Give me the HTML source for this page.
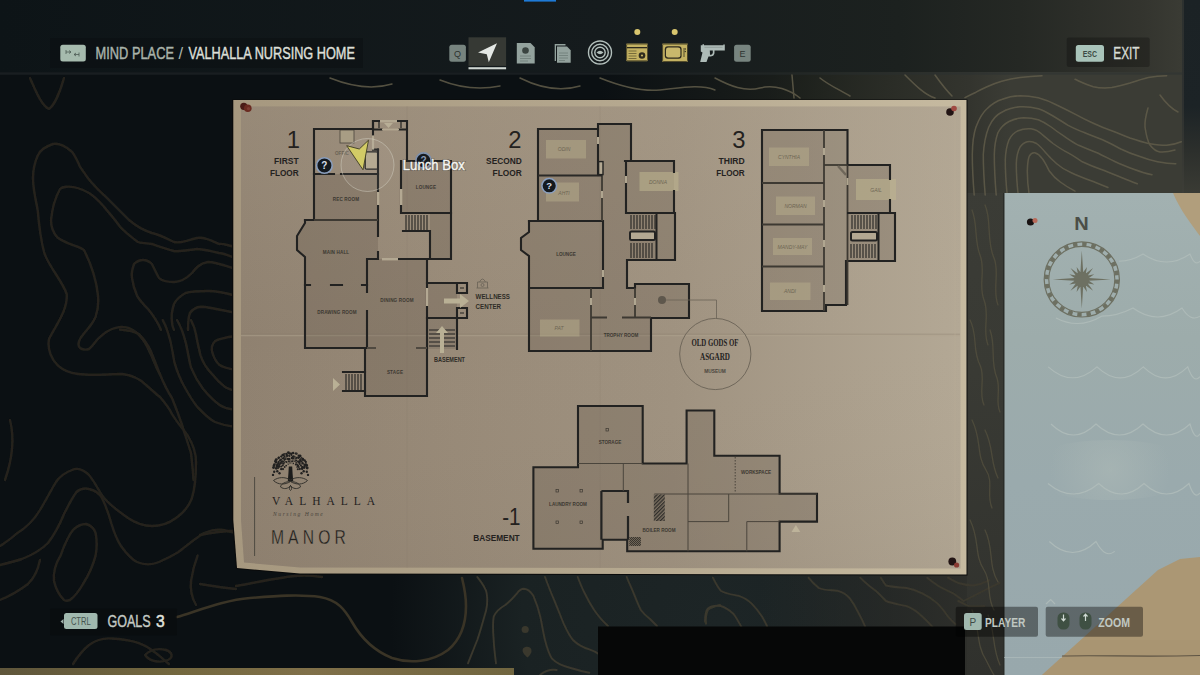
<!DOCTYPE html>
<html><head><meta charset="utf-8">
<style>
html,body{margin:0;padding:0;width:1200px;height:675px;overflow:hidden;background:#0b1013;}
svg{position:absolute;left:0;top:0;display:block;}
</style></head>
<body>
<svg width="1200" height="675" viewBox="0 0 1200 675" font-family="Liberation Sans, sans-serif">
<defs>
  <radialGradient id="rg1" cx="1090" cy="170" r="330" gradientUnits="userSpaceOnUse">
    <stop offset="0" stop-color="#3d3d36"/>
    <stop offset="0.45" stop-color="#35362f"/>
    <stop offset="1" stop-color="#35362f" stop-opacity="0"/>
  </radialGradient>
  <radialGradient id="rg2" cx="720" cy="620" r="330" gradientUnits="userSpaceOnUse">
    <stop offset="0" stop-color="#1d2526"/>
    <stop offset="0.6" stop-color="#1a2223"/>
    <stop offset="1" stop-color="#1a2223" stop-opacity="0"/>
  </radialGradient>
  <radialGradient id="rg3" cx="990" cy="420" r="200" gradientUnits="userSpaceOnUse">
    <stop offset="0" stop-color="#33342e"/>
    <stop offset="1" stop-color="#33342e" stop-opacity="0"/>
  </radialGradient>
  <linearGradient id="topGrad" x1="0" y1="0" x2="1200" y2="0" gradientUnits="userSpaceOnUse">
    <stop offset="0" stop-color="#0d1417"/>
    <stop offset="0.5" stop-color="#151b1d"/>
    <stop offset="0.75" stop-color="#1c211f"/>
    <stop offset="0.85" stop-color="#252824"/>
    <stop offset="0.95" stop-color="#33342e"/>
    <stop offset="0.985" stop-color="#3a3b34"/>
  </linearGradient>
  <linearGradient id="goldBar" x1="0" y1="0" x2="1" y2="0">
    <stop offset="0" stop-color="#5f563b"/>
    <stop offset="0.35" stop-color="#74683f"/>
    <stop offset="0.6" stop-color="#807049"/>
    <stop offset="1" stop-color="#716640"/>
  </linearGradient>
  <pattern id="hatch" width="2.6" height="2.6" patternUnits="userSpaceOnUse" patternTransform="rotate(45)">
    <rect width="2.6" height="2.6" fill="#7a6f60"/><rect width="1.2" height="2.6" fill="#2e2c29"/>
  </pattern>
  <pattern id="chk" width="2" height="2" patternUnits="userSpaceOnUse">
    <rect width="2" height="2" fill="#6f6556"/><rect width="1" height="1" fill="#3a3630"/><rect x="1" y="1" width="1" height="1" fill="#3a3630"/>
  </pattern>
</defs>
<rect x="0" y="0" width="1200" height="675" fill="#0b1013"/>
<rect x="0" y="0" width="1200" height="675" fill="url(#rg2)"/>
<rect x="0" y="0" width="1200" height="675" fill="url(#rg3)"/>
<rect x="0" y="0" width="1200" height="675" fill="url(#rg1)"/>
<rect x="0" y="0" width="1200" height="72" fill="url(#topGrad)"/>
<linearGradient id="stripG" x1="0" y1="72" x2="0" y2="675" gradientUnits="userSpaceOnUse"><stop offset="0" stop-color="#3c3d37"/><stop offset="0.5" stop-color="#393a34"/><stop offset="1" stop-color="#30312d"/></linearGradient>
<rect x="966" y="100" width="38" height="575" fill="url(#stripG)"/>
<linearGradient id="trG" x1="600" y1="0" x2="1010" y2="0" gradientUnits="userSpaceOnUse"><stop offset="0" stop-color="#23251f" stop-opacity="0"/><stop offset="0.5" stop-color="#23261f" stop-opacity="0.7"/><stop offset="0.9" stop-color="#33342e"/><stop offset="1" stop-color="#3b3c35"/></linearGradient>
<rect x="600" y="72" width="582" height="121" fill="url(#trG)"/>
<linearGradient id="botR" x1="760" y1="0" x2="967" y2="0" gradientUnits="userSpaceOnUse"><stop offset="0" stop-color="#2a2b28" stop-opacity="0"/><stop offset="0.6" stop-color="#2a2b28" stop-opacity="0.7"/><stop offset="1" stop-color="#2e2f2b"/></linearGradient>
<rect x="760" y="575" width="207" height="100" fill="url(#botR)"/>

<line x1="0" y1="73.5" x2="1182" y2="73.5" stroke="#2a3032" stroke-width="2.5" opacity="0.45"/>
<linearGradient id="dsG" x1="0" y1="0" x2="0" y2="193" gradientUnits="userSpaceOnUse"><stop offset="0" stop-color="#1b2225"/><stop offset="0.55" stop-color="#1c2326"/><stop offset="0.78" stop-color="#2c2f2c"/><stop offset="1" stop-color="#3a3b34"/></linearGradient>
<rect x="1182" y="0" width="18" height="195" fill="url(#dsG)"/>
<line x1="1183" y1="0" x2="1183" y2="195" stroke="#40413a" stroke-width="1"/>
<!-- contours left (dark) -->
<filter id="soft" x="-5%" y="-5%" width="110%" height="110%"><feGaussianBlur stdDeviation="0.6"/></filter>
<g fill="none" stroke="#25241d" stroke-width="2.4" stroke-linecap="round" stroke-linejoin="round" filter="url(#soft)">
  <path d="M30,78 C36,92 42,106 49,109 C54,106 60,92 64,78"/>
  <path d="M236,247 C226,245 222,243 219,244 C210,240 204,237 197,238 C188,240 180,244 174,242 C166,238 158,234 152,233 C142,230 136,226 129,220 C122,213 116,207 111,202 C104,195 98,190 93,184 C87,178 84,172 80,166.7 C76,158 74,153 71,151 C64,145 58,143 53,144 C44,147 40,150 37.8,155.6 C34,164 33,170 33,178 C33,190 36,200 37.8,211 C39,226 41,240 44,252 C48,266 62,280 66.7,294 C68,310 56,325 49,339 C47,350 52,360 58,365.6 C64,371 70,373 78,374 C92,376 108,374 122,374 C132,375 140,379 146,385 C152,390 156,394 160,397 C166,404 170,410 172,414 C178,424 184,430 188,436 C194,446 196,454 196,462 C196,476 195,488 192,498 C188,508 182,514 176,518 C168,524 160,526 152,526 C142,526 134,522 128,518 C118,511 110,505 104,498 C98,490 94,480 88,474 C82,469 76,468 72,470 C64,473 60,476 56,482 C50,492 46,500 40,510 C34,520 26,528 16,534 C10,540 4,543 0,546"/>
  <path d="M236,258 C228,256 224,253 219,253 C210,251 204,249 197,249 C188,250 180,252 174,251 C166,249 158,246 152,244 C146,243 140,243 137.8,242 C130,236 124,231 120,226.7 C114,218 108,212 104,206.7 C99,201 94,196 89,193 C82,189 74,186 66.7,186.7 C63,187 61,188 60,189 C55,198 52,210 51,220 C51,228 54,234 57.8,237.8 C66,244 78,246 84,250 C90,262 96,278 97.8,294 C99,304 98,310 95.6,316.7 C92,326 84,332 80,339 C78,343 78,346 80,348 C83,350 86,350 89,349 C93,346 95,342 97.8,339 C104,333 110,329 115.6,327.8 C122,326 128,327 133,330 C139,334 143,339 146.7,345.6 C150,352 153,359 155.6,365.6 C157,369 158.5,372 160,374.5 C164,384 168,392 172,398 C176,408 179,416 181.7,424 C185,434 188,444 191,453 C192,462 193,470 193.5,480"/>
  <path d="M236,269 C226,266 216,262 208,262 C200,263 196,268 192,273 C186,279 180,282 174,282 C167,282 162,281 159,278 C156,273 154,268 152,264 C149,261 146,260 143,260 C139,260 136,262 134,264 C132,270 131,274 132,278 C133,286 135,291 137,295.6 C140,301 144,305 148,309 C152,314 155,318 157,322 C159,325 160,328 161,330"/>
  <path d="M236,296 C226,293 216,291 208,291 C200,291 192,291 185.6,293 C180,296 176,300 174,304 C172,310 171,316 172,322 C172,326 173,328 174,330"/>
  <path d="M236,313 C226,311 210,307 201,306.7 C196,307 192,310 190,313 C188,318 188,324 188,330"/>
  <path d="M162.7,320 C166,326 168,332 169.8,339 C172,347 173,355 174.5,362.7 C177,371 180,379 184,386 C189,395 193,402 198,407.7 C204,414 209,419 214.9,422 C220,424 226,426 236,427"/>
  <path d="M177,320 C181,327 184,335 186,343.7 C188,352 189,360 191,367.4 C194,375 198,382 203,388.8 C209,396 214,401 219.6,405 C224,408 228,409 236,410"/>
  <path d="M191,320 C193,324 195,329 195.9,334 C197,341 199,349 200.6,355.6 C203,363 207,369 212.5,374.5 C216,379 220,383 224.3,386.4 C228,389 232,390 236,391"/>
  <path d="M236,336 C228,337 220,338 214.9,341.3 C212,344 211,348 212.5,353 C214,358 216,362 219.6,365 C224,368 230,369 236,370"/>
  <path d="M120,329.5 C126,330 133,331 139,334 C144,339 148,345 150.8,351 C154,359 157,367 160,374.5"/>
  <path d="M0,565 C8,563 16,561 22,559 C32,555 42,549 48,543 C54,535 60,524 64,514 C68,506 72,498 76.5,492 C80,489 85,488 89,489 C94,490 99,493 102,498 C106,506 109,515 111.5,524 C114,532 117,540 121,546 C126,553 131,559 137,562 C144,565 152,565 159,562 C166,559 172,556 178.5,552 C186,546 196,538 204,533 C212,530 218,529 223,530 C228,531 232,532 236,533"/>
  <path d="M64,600 C60,596 56,590 54,581 C53,572 56,563 60.5,555.6 C64,546 68,536 73,530 C77,526 82,524 86,524 C90,525 94,528 95.6,533 C97,540 97,548 95.6,555.6 C93,566 88,576 83,584 C79,591 74,597 70,600 C67,601 65,601 64,600Z"/>
  <path d="M73,664 C78,656 83,650 89,645 C96,640 104,638 111.5,638.5 C120,639 128,640 134,641.7 C142,644 148,647 153,651 C159,655 164,660 169,664"/>
  <path d="M145,655 C150,650 158,648 166,650 C172,652 174,657 168,660 C160,663 150,662 145,655Z"/>
  <path d="M0,600 C10,596 20,590 28,584 C34,578 38,570 40,560"/>
  <path d="M197.6,555.6 C194,565 192,574 191,581 C190,590 192,598 196,605"/>
  <path d="M200,535 C210,533 222,531 234,530.7"/>
  <path d="M200,584 C212,586 224,588 236,589"/>
  <path d="M236,586 C255,583 275,578 295,576 C305,575 315,576 322,577"/>
  <path d="M10,420 C15,440 12,460 5,480"/>
</g>
<g fill="none" stroke="#3a3426" stroke-width="2.6" stroke-linecap="round">
  <path d="M177,617 C200,610 225,600 250,598 C275,596 300,594 320,597 C338,600 345,610 352,622 C360,636 372,650 392,658 C410,664 432,662 448,650 C460,640 466,624 466,606 C466,594 464,586 462,578"/>
</g>
<!-- bottom middle contours -->
<g fill="none" stroke="#3a382d" stroke-width="1.9" stroke-linecap="round" stroke-linejoin="round" filter="url(#soft)">
  <path d="M477.3,577 C482,583 486,588 486.7,593.3 C488,601 487,609 484.3,616.7 C482,625 480,632 477.3,640 C474,648 471,656 468,663.3"/>
  <path d="M496,663.3 C495,655 494,648 493.7,640 C493,632 492.5,624 493.7,616.7 C496,611 500,608 505.3,605 C510,601 514,597 517,593.3 C519,590.5 521.5,588.7 524,588.7 C528,589 531,592 533.3,595.7 C536,602 538.5,609 540.3,616.7 C542,624 543,632 545,640 C547,648 549,654 552,658.7 C557,664 564,666.5 570.7,668 C577,670 583,671.5 589.3,672.7"/>
  <path d="M545,577 C548,585 551,593 554.3,600.3 C557.5,608 560.5,616 563.7,623.7 C566.5,630 569.5,636 573,640 C578,645 583,647.5 589.3,649.3 C593,650.5 596,652 598.7,654"/>
  <path d="M577.7,577 C580,583 582,588 584.7,593.3 C587.5,599 590.5,604.5 594,609.7 C597,614 600,618 603.3,621.3 C605,623 606.5,624.5 608,626"/>
  <path d="M626.7,577 C629,583 631.5,588 633.7,593.3 C636,599 638,604.5 640.7,609.7 C643.5,613.5 646.5,616.5 650,619 C652.5,621.5 655,624 657,626"/>
  <path d="M720,605 C715,606 711,607.5 708,609.7 C706,614 705.5,619 706,623.7"/>
  <path d="M540,675 C545,671 550,669 556.7,670"/>
  <path d="M712.9,577.7 C715,582 717.5,587 720.7,590.7 C726,594 732,594.5 738.7,595.8 C744,597.5 748,600 751.7,603.6 C755.5,607.5 759,612 762,616.5 C764,620 766,623.5 767.2,626.8"/>
  <path d="M705,621.7 C705,616 705.5,611.5 707.7,608.7 C711,606 716,605.5 720.7,606 C725.5,607.5 730,610.5 733.6,614 C736.5,618 739,622.5 741.3,626.8"/>
  <path d="M808.5,577.7 C811.5,581.5 815,585 818.8,588 C824,590.5 830.5,590 837,590.7 C842,592 846.5,594.5 849.8,598.4 C853,602.5 855.5,607 857.6,611.3 C860.5,616.5 863,621.5 865.3,626.8"/>
  <path d="M860.2,577.7 C865,582.5 870,587 875.7,590.7 C879.5,594 882.5,597.5 886,601 C892,603.5 899.5,604.5 906.7,606.2 C912.5,608.5 917.5,612 922.2,616.5 C926,620 929.5,623.5 932.5,626.8"/>
  <path d="M880.8,577.7 C882.5,580.5 884,583 886,585.5 C892.5,587 899.5,587.5 906.7,588 C912,589 917.5,591 922.2,593.3 C928,596 933,599.5 937.7,603.6 C941.5,607.5 945,612 948,616.5 C950.5,619.5 953,622 955.7,624.2"/>
  <path d="M927.3,577.7 C930.5,580.5 934,583 937.7,585.5 C942.5,588.5 948,591 953.2,593.3 C957,596 960,598.5 963.5,601 C967,599.5 970.5,597.5 973.8,595.8 C979,593 984,590.5 989.3,588 C993,586 996.5,584.5 999.7,582.9"/>
  <path d="M948,577.7 C951.5,579.5 955,581.5 958.3,583 C963.5,584.5 968.5,585.5 973.8,585.5 C979,584.5 984.5,582.5 989.3,580.3"/>
  <path d="M958.3,601 C962,602.5 965.5,604.5 968.7,606.2 C974,606.5 979,606.5 984.2,606.2"/>
</g>

<g fill="#3a382d">
  <circle cx="525.2" cy="629.5" r="3.6"/>
  <path d="M523,648.5 C525,646.5 528,646 530.5,648 C532.5,650.5 531.5,654 527.5,657.5 C524,654.5 521.5,651.5 523,648.5Z"/>
</g>
<!-- right side contours (light) -->
<g fill="none" stroke="#615c4a" stroke-width="1.5" stroke-linecap="round" stroke-linejoin="round" opacity="0.85" filter="url(#soft)">
  <path d="M974.2,195 C973,180 972.3,165 972.3,154.5 C972.5,142 973.5,134 976,127 C979,119 982,113 987,108.7 C992,104 996,101 1001.7,99.5 C1008,97 1014,96 1020,95.8 C1026,95.8 1032,96.5 1038.3,97.7 C1045,99.5 1051,102 1056.7,105 C1063,108 1069,111 1075,114.2 C1081,117.5 1087,120.5 1093.3,123.3 C1099,126 1105,128.5 1111.7,130.7 C1118,133 1124,135.8 1130,138 C1136,140 1142,142 1148.3,143.5 C1155,144.5 1161,145.5 1166.7,145.3 C1172,144.8 1177,143.5 1181.3,141.7"/>
  <path d="M985.2,195 C984,180 983.3,165 983.3,154.5 C984,143 986,134 988.8,127 C992,120 996,115 1001.7,112.3 C1007,109 1013,107.5 1020,106.8 C1026,106.5 1032,107 1038.3,108.7 C1044,110.5 1048,113 1053,116 C1058,119 1063,122 1067.7,125.2 C1073,128 1078,130.5 1084.2,132.5 C1090,135 1096,137 1102.5,139.8 C1109,142.5 1115,146 1120.8,149 C1127,152 1133,154.5 1139.2,156.3 C1145,158.5 1151,160.5 1157.5,161.8 C1164,163 1170,163.8 1175.8,163.7"/>
  <path d="M996.2,195 C995,180 994.3,165 994.3,154.5 C994.5,145 996,138 998,132.5 C1001,127 1005,123.5 1009,121.5 C1014,119 1019,118 1023.7,117.8 C1029,117.8 1034,118.5 1038.3,119.7 C1043,121.5 1047,124 1051.2,127 C1055,130 1059,133 1064,136.2 C1069,139.5 1073,142.5 1078.7,145.3 C1085,148 1091,150.5 1097,152.7 C1103,155.5 1109,158.8 1115.3,161.8 C1121,164.5 1127,166.8 1133.7,169.2 C1140,171.5 1146,173.5 1152,174.7"/>
  <path d="M1007.2,195 C1006,183 1005.3,171 1005.3,160 C1005.5,151 1007,145 1009,139.8 C1011.5,135 1014.5,132.5 1018.2,130.7 C1022,129 1027,128.5 1031,128.8 C1035,129.5 1039,131.5 1042,134.3 C1046,137.5 1049,140.5 1053,143.5 C1058,147 1062,149.8 1067.7,152.7 C1073,155.5 1077,158.5 1082.3,161.8 C1088,164.5 1094,167 1100.7,169.2 C1107,171.5 1113,174 1119,176.5 C1125,179 1131,181.5 1137.3,183.8"/>
  <path d="M1018.2,195 C1017,184 1016.3,173 1016.3,163.7 C1016.5,156 1018,151 1020,147.2 C1022,144 1024.5,142.3 1027.3,141.7 C1030.5,141 1033.5,141.8 1036.5,143.5 C1040,146 1043,149.5 1045.7,152.7 C1049,156.5 1053,160.5 1056.7,163.7 C1061,167.5 1066,170.5 1071.3,172.8 C1077,175.5 1083,177.8 1089.7,180.2 C1096,182.5 1102,185 1108,187.5"/>
  <path d="M1029.2,195 C1028,187 1027.3,178 1027.3,171 C1027.5,164 1028,159.5 1029.2,156.3 C1030.5,153.8 1032.5,152.5 1034.7,152.7 C1037.5,153.5 1040,155.5 1042,158.2 C1045,162 1047,166.5 1049.3,171 C1052.5,175.5 1056,179 1060.3,182 C1065,185.5 1070,188.5 1075,191.2"/>
  <path d="M965,97.7 C969,95.5 972,94 976,92.2 C980,90 983,88.5 987,86.7 C992,84.5 996,82.8 1001.7,81.2 C1008,79.5 1014,78.3 1020,77.5 C1028,76.5 1035,76 1042,75.7"/>
  <path d="M1075,79.3 C1081,82 1087,85 1093.3,86.7 C1099,88 1105,88.2 1111.7,87.6 C1118,86.5 1124,84.8 1130,83 C1136,81 1142,79 1148.3,77.5 C1155,76.3 1161,75.8 1166.7,75.7"/>
  <path d="M1148,108 C1146,115 1144.5,121 1145,127 C1146,134 1147,140 1150,145 C1153,149 1156,151.5 1160,152 C1165,152.5 1170,151.5 1175,150"/>
  <path d="M1160,95 C1165,102 1170,108 1178,112"/>
  <path d="M905,75 C915,85 925,95 935,98"/>
  <path d="M935,75 C940,82 946,90 952,96"/>
  <path d="M715,78 C730,86 745,92 760,88 C775,84 790,90 800,98"/>
  <path d="M792,75 L794,98"/>
  <path d="M820,78 C830,86 840,90 850,96"/>
  <path d="M600,78 C620,86 640,92 660,90 C680,88 700,84 715,90"/>
  <path d="M520,78 C540,88 560,92 580,86"/>
  <path d="M440,80 C460,88 480,90 500,86"/>
  <path d="M330,78 C350,86 372,90 392,84"/>
</g>
<g fill="none" stroke="#57523f" stroke-width="1.3" stroke-linecap="round" opacity="0.7" filter="url(#soft)">
  <path d="M972,210 C978,225 974,240 980,255 C986,270 978,285 984,300 C990,315 982,330 988,345"/>
  <path d="M985,205 C992,220 986,240 994,258 C1000,272 992,290 998,305"/>
  <path d="M970,320 C978,335 972,350 980,365 C986,378 978,392 984,405"/>
  <path d="M990,330 C996,345 990,362 997,378 C1001,390 995,402 1000,412"/>
  <path d="M972,420 C982,440 976,455 986,470 C994,482 986,495 992,508"/>
  <path d="M985,430 C994,448 990,462 998,478"/>
  <path d="M970,520 C980,540 974,555 984,570 C992,582 986,596 994,610"/>
  <path d="M985,530 C994,548 988,566 998,582"/>
  <path d="M972,610 C980,628 976,645 986,660 C990,668 992,672 994,675"/>
  <path d="M988,615 C995,630 992,648 1000,665"/>
</g>

<defs>
<linearGradient id="paperG" x1="241" y1="0" x2="960" y2="0" gradientUnits="userSpaceOnUse">
  <stop offset="0" stop-color="#8f8170"/>
  <stop offset="0.3" stop-color="#988a78"/>
  <stop offset="0.6" stop-color="#9f9280"/>
  <stop offset="1" stop-color="#b3a895"/>
</linearGradient>
<linearGradient id="borderG" x1="234" y1="0" x2="967" y2="0" gradientUnits="userSpaceOnUse">
  <stop offset="0" stop-color="#a6987f"/>
  <stop offset="0.5" stop-color="#b4a78e"/>
  <stop offset="1" stop-color="#c6baa0"/>
</linearGradient>
<linearGradient id="paperV" x1="0" y1="106" x2="0" y2="568" gradientUnits="userSpaceOnUse">
  <stop offset="0" stop-color="#b0a38f" stop-opacity="0.25"/>
  <stop offset="0.5" stop-color="#b0a38f" stop-opacity="0"/>
  <stop offset="1" stop-color="#7a6e60" stop-opacity="0.1"/>
</linearGradient>
</defs>
<!-- paper -->
<polygon points="232,99.5 967.5,99.5 967.5,575.5 300,574.5 236,569 232,520" fill="#0a0b0b"/>
<polygon points="233.3,100 966.5,100 966.5,574.5 300,573.5 237,568 233.3,520" fill="url(#borderG)"/>
<polygon points="241,106.5 960.5,106.5 960.5,568.5 300,567.5 244,562.5 241,520" fill="url(#paperG)"/>
<polygon points="241,106.5 960.5,106.5 960.5,568.5 300,567.5 244,562.5 241,520" fill="url(#paperV)"/>
<line x1="241" y1="334.2" x2="960" y2="334.2" stroke="#7e7262" stroke-width="0.8" opacity="0.45"/>
<line x1="241" y1="335.5" x2="960" y2="335.5" stroke="#b0a48f" stroke-width="1.3" opacity="0.5"/>
<line x1="407" y1="106" x2="407" y2="568" stroke="#86796a" stroke-width="0.8" opacity="0.3"/>
<line x1="600" y1="106" x2="600" y2="568" stroke="#86796a" stroke-width="0.8" opacity="0.25"/>
<line x1="955" y1="106" x2="955" y2="568" stroke="#b8ac96" stroke-width="1" opacity="0.5"/>

<!-- ====== FIRST FLOOR ====== -->
<g fill="#5a5045" fill-opacity="0.25" stroke="none">
  <rect x="314" y="174" width="64" height="46"/>
  <rect x="401" y="161" width="50" height="52"/>
  <rect x="430" y="213" width="21" height="46"/>
  <path d="M305,220 L378,220 L378,259 L367,259 L367,348 L305,348 L305,257 L297,250 L297,236 L305,223Z"/>
  <rect x="367" y="259" width="60" height="89"/>
  <rect x="365" y="348" width="62" height="48"/>
  <rect x="427" y="283" width="30" height="35"/>
  <rect x="427" y="318" width="29" height="31" fill="#5a5045" fill-opacity="0.2"/>
</g>
<g fill="#5a5045" fill-opacity="0.0">
  <rect x="314" y="129" width="59" height="45"/>
  <rect x="373" y="121" width="34" height="40"/>
  <rect x="378" y="161" width="23" height="98"/>
  <rect x="403" y="231" width="27" height="28"/>
</g>
<rect x="340" y="130" width="14" height="13" fill="#a89d84" stroke="#4a453d" stroke-width="0.8"/>
<rect x="365.2" y="151.8" width="12.6" height="17.4" rx="1.5" fill="#b1a68d" stroke="#232322" stroke-width="1.3"/>
<g stroke="#222221" stroke-width="2.1" fill="none" stroke-linecap="square">
  <path d="M334,174 L314,174 L314,129 L373,129"/>
  <path d="M341,174 L378,174"/>
  <path d="M373,129 L373,121 L380,121 M397,121 L407,121 L407,161 L451,161 L451,259 L399,259"/>
  <path d="M373,129.5 L382,129.5 M399,129.5 L407,129.5" stroke-width="1.8"/>
  <path d="M379,122 L379,127.5 M401,122 L401,127.5" stroke-width="1.2"/>
  <path d="M373,121 L373,135.4 M373,149.6 L378,149.6"/>
  <path d="M378,149.6 L378,236 M378,252 L378,259 L367,259 L367,292 M367,311 L367,348"/>
  <path d="M401,161 L401,213 L451,213"/>
  <path d="M403,231 L430,231 L430,259"/>
  <path d="M314,174 L314,220 M305,220 L314,220"/>
  <path d="M305,220 L305,223 L297,236 L297,250 L305,257 L305,348 L365,348 L365,396 L427,396 L427,259 L398,259"/>
  <path d="M305,285 L310,285 M331,285 L342,285 M362,285 L367,285"/>
  <path d="M427,283 L467,283 M457,283 L457,293 L467,293 L467,283 M457,308 L457,318 L467,318 L467,308 L457,308 M427,318 L457,318 L457,349"/>
  <path d="M343,372 L365,372 M343,391 L365,391"/>
</g>
<path d="M367,348 L376,348 M416,348 L427,348" stroke="#4f4940" stroke-width="2.2"/>
<path d="M314,220 L378,220" stroke="#3d3932" stroke-width="1.9"/>
<g stroke="#232322" stroke-width="1.1">
  <path d="M406,215 v15 M409,215 v15 M412,215 v15 M415,215 v15 M418,215 v15 M421,215 v15 M424,215 v15 M427,215 v15"/>
  <path d="M346,374 v16 M349,374 v16 M352,374 v16 M355,374 v16 M358,374 v16 M361,374 v16"/>
  <path d="M429,330 h26 M429,334 h26 M429,338 h26 M429,342 h26 M429,346 h26"/>
</g>
<!-- door marks -->
<path d="M460,288 h4 M460,313 h4" stroke="#222221" stroke-width="1"/>
<g fill="#b3a892">
  <rect x="426" y="288" width="2.2" height="18"/>
  <rect x="382" y="258" width="16" height="2.4"/>
  <rect x="377" y="192" width="2.4" height="13"/><rect x="400" y="189" width="2.4" height="16"/>
  <rect x="371.9" y="135.4" width="2.2" height="14.2"/>
  <rect x="380" y="120" width="17" height="2.4"/><rect x="382" y="128.6" width="17" height="1.8"/>
</g>
<path d="M384,123 L393,123 L388.5,128Z" fill="#b8ae96"/>
<path d="M444,298.5 L460,298.5 L460,294 L469,301 L460,308 L460,303.5 L444,303.5Z" fill="#b9b095"/>
<path d="M440,353 L440,333 L436,333 L442,326 L448,333 L444,333 L444,353Z" fill="#b9b095"/>
<path d="M333,378 L340,384.5 L333,391Z" fill="#b9b095"/>
<g font-size="4.6" fill="#3c3831" font-weight="bold" text-anchor="middle" letter-spacing="0.15">
  <text x="346" y="201">REC ROOM</text>
  <text x="426" y="188.5">LOUNGE</text>
  <text x="336" y="254">MAIN HALL</text>
  <text x="337" y="314">DRAWING ROOM</text>
  <text x="397" y="302">DINING ROOM</text>
  <text x="395" y="373.5">STAGE</text>
</g>
<text x="335" y="155" font-size="4.6" fill="#6a6255" font-weight="bold">OFFIC</text>
<g font-size="7.4" fill="#2f2c27" font-weight="bold">
  <text x="475.6" y="298.6" textLength="34.4" lengthAdjust="spacingAndGlyphs">WELLNESS</text>
  <text x="475.6" y="308.6" textLength="25.4" lengthAdjust="spacingAndGlyphs">CENTER</text>
  <text x="434" y="362.2" textLength="31" lengthAdjust="spacingAndGlyphs">BASEMENT</text>
</g>
<g fill="none" stroke="#6e675a" stroke-width="0.9">
  <path d="M477.5,288 L477.5,282 L487.5,282 L487.5,288 M476.5,288 L488.5,288 M479.5,282 Q482.5,276 485.5,282"/>
  <circle cx="482.5" cy="285" r="1.5"/>
</g>

<!-- ====== SECOND FLOOR ====== -->
<g fill="#5a5045" fill-opacity="0.25">
  <rect x="538" y="129" width="60" height="46"/>
  <rect x="538" y="175" width="64.5" height="46"/>
  <rect x="598" y="124" width="33" height="37"/>
  <path d="M602.5,161 L626,161 L626,213 L627,213 L627,288 L602.5,288Z"/>
  <rect x="626" y="161" width="48" height="52"/>
  <rect x="627" y="213" width="48" height="47"/>
  <path d="M529,221 L602.5,221 L602.5,288 L529,288 L529,256 L521,250 L521,238 L529,232Z"/>
  <path d="M529,288 L635,288 L635,318 L651,318 L651,351 L529,351Z"/>
  <rect x="635" y="284" width="54" height="34"/>
</g>
<g fill="#b8ae8c" fill-opacity="0.5">
  <rect x="546" y="140" width="40" height="18.5"/>
  <rect x="546" y="182.5" width="33" height="19"/>
  <rect x="639.5" y="172" width="39" height="19" fill="#c0b690" fill-opacity="0.55"/>
  <rect x="540" y="319.5" width="39.5" height="17"/>
</g>
<g stroke="#222221" stroke-width="2.1" fill="none" stroke-linecap="square">
  <path d="M538,221 L538,129 L598,129 L598,124 L631,124 L631,161 L674,161 L674,172 M674,191 L674,213"/>
  <path d="M529,221 L603,221 L603,288"/>
  <path d="M529,221 L529,232 L521,238 L521,250 L529,256 L529,351 L651,351 L651,318 L689,318 L689,284 L635,284 L635,288 L627,288 L627,260 L675,260 L675,213"/>
  <path d="M626,161 L626,213 L674,213 M625,161 L632,161"/>
  <path d="M598,129 L598,175"/>
</g>
<g stroke="#3d3932" stroke-width="1.8" fill="none">
  <path d="M602,175 L602,221"/>
  <path d="M538,175.5 L602,175.5" stroke="#2a2927" stroke-width="2"/>
  <path d="M529,288 L603,288" stroke="#232322" stroke-width="2.1"/>
  <path d="M591,288 L591,351"/>
  <path d="M591,317.5 L607,317.5 M622,317.5 L651,317.5"/>
  <path d="M635,288 L635,318"/>
</g>
<rect x="598.6" y="161.6" width="4.4" height="13" fill="#b3a892" stroke="#232322" stroke-width="1.4"/>
<g fill="#b0a690">
  <rect x="597" y="137" width="2" height="7"/><rect x="601" y="191" width="2" height="7"/>
  <rect x="625" y="176" width="2" height="7"/><rect x="602" y="270" width="2" height="7"/>
  <rect x="590" y="298" width="2" height="7"/><rect x="634" y="298" width="2" height="7"/>
</g>
<rect x="630" y="231.5" width="25" height="8.5" rx="1.5" fill="#b3a892" stroke="#232322" stroke-width="2"/>
<g stroke="#232322" stroke-width="1.1">
  <path d="M631,215 v14 M634,215 v14 M637,215 v14 M640,215 v14 M643,215 v14 M646,215 v14 M649,215 v14 M652,215 v14 M655,215 v14"/>
  <path d="M631,243 v15 M634,243 v15 M637,243 v15 M640,243 v15 M643,243 v15 M646,243 v15 M649,243 v15 M652,243 v15"/>
</g>
<path d="M656.5,213 L656.5,260" stroke="#232322" stroke-width="2"/>
<circle cx="662" cy="300" r="4" fill="#5e574c"/>
<path d="M666,300 L716.5,300 L716.5,318" fill="none" stroke="#6a6256" stroke-width="0.8"/>
<circle cx="715.3" cy="354" r="35.6" fill="none" stroke="#6a6256" stroke-width="0.9"/>
<g font-size="10.5" fill="#24221f" font-weight="bold" text-anchor="middle" font-family="Liberation Serif, serif">
  <text x="715" y="346" textLength="47" lengthAdjust="spacingAndGlyphs">OLD GODS OF</text>
  <text x="715" y="359.5" textLength="30" lengthAdjust="spacingAndGlyphs">ASGARD</text>
</g>
<text x="715" y="373" font-size="4.8" fill="#4a453d" font-weight="bold" text-anchor="middle">MUSEUM</text>
<g font-size="4.6" fill="#3c3831" font-weight="bold" text-anchor="middle">
  <text x="566" y="256">LOUNGE</text>
  <text x="621" y="337">TROPHY ROOM</text>
</g>
<g font-size="5" fill="#6d6553" font-style="italic" text-anchor="middle">
  <text x="564" y="151">ODIN</text>
  <text x="564" y="195">AHTI</text>
  <text x="658" y="183.5">DONNA</text>
  <text x="559" y="330">PAT</text>
</g>

<!-- ====== THIRD FLOOR ====== -->
<g fill="#5a5045" fill-opacity="0.25">
  <rect x="762" y="130" width="62" height="181"/>
  <rect x="824" y="130" width="23.5" height="175" fill="#5a5045" fill-opacity="0.2"/>
  <rect x="847.5" y="165" width="42.5" height="48"/>
  <rect x="847.5" y="213" width="47.5" height="48"/>
</g>
<g fill="#b8ae8c" fill-opacity="0.5">
  <rect x="769" y="147.5" width="40" height="18.5"/>
  <rect x="776" y="196.5" width="39" height="18.5"/>
  <rect x="773" y="238" width="39" height="17"/>
  <rect x="770" y="282.5" width="40.5" height="17.5"/>
  <rect x="856" y="179" width="40" height="21" fill="#c0b690" fill-opacity="0.55"/>
</g>
<g stroke="#222221" stroke-width="2.1" fill="none" stroke-linecap="square">
  <path d="M826,305 L846,305 L846,261 L895,261 L895,213 L890,213 L890,200 M890,179 L890,165 L847.5,165 L847.5,130 L762,130 L762,311 L826,311 L826,305"/>
</g>
<g stroke="#3d3932" stroke-width="1.8" fill="none">
  <path d="M824,130 L824,311"/>
  <path d="M762,183 L824,183 M762,224.5 L824,224.5 M762,266.5 L824,266.5"/>
  <path d="M824,165 L847.5,165"/>
  <path d="M847.5,165 L847.5,305"/>
  <path d="M847,213 L895,213" stroke="#232322"/>
</g>
<path d="M838,166 L846,175" stroke="#6f675a" stroke-width="2.4"/>
<g fill="#b0a690">
  <rect x="823" y="148" width="2" height="7"/><rect x="823" y="200" width="2" height="7"/>
  <rect x="823" y="240" width="2" height="7"/><rect x="823" y="285" width="2" height="7"/>
  <rect x="846.5" y="178" width="2" height="7"/>
</g>
<rect x="851" y="232" width="26" height="8.5" rx="1.5" fill="#b3a892" stroke="#232322" stroke-width="2"/>
<g stroke="#232322" stroke-width="1.1">
  <path d="M852,215 v14 M855,215 v14 M858,215 v14 M861,215 v14 M864,215 v14 M867,215 v14 M870,215 v14 M873,215 v14 M876,215 v14"/>
  <path d="M851,244 v14 M854,244 v14 M857,244 v14 M860,244 v14 M863,244 v14 M866,244 v14 M869,244 v14 M872,244 v14 M875,244 v14"/>
</g>
<path d="M878.5,213 L878.5,260" stroke="#232322" stroke-width="2"/>
<g font-size="5" fill="#6d6553" font-style="italic" text-anchor="middle">
  <text x="789" y="158.5">CYNTHIA</text>
  <text x="795.5" y="207.5">NORMAN</text>
  <text x="792.5" y="248.5">MANDY-MAY</text>
  <text x="790" y="293">ANDI</text>
  <text x="876" y="191.5">GAIL</text>
</g>

<!-- ====== BASEMENT ====== -->
<path d="M533.4,467.3 L578,467.3 L578,406 L642.7,406 L642.7,463.5 L686.6,463.5 L686.6,410.5 L714.3,410.5 L714.3,455.7 L779.6,455.7 L779.6,493.7 L817,493.7 L817,521.6 L779.6,521.6 L779.6,551.3 L627.2,551.3 L627.2,539.7 L602.7,539.7 L602.7,548.7 L533.4,548.7Z" fill="#5a5045" fill-opacity="0.25" stroke="#222221" stroke-width="2.1"/>
<g stroke="#232322" stroke-width="2.2" fill="none">
  <path d="M601.4,491 L628,491 L628,503 M628,516 L628,539.7 M601.4,491 L601.4,539.7"/>
</g>
<g stroke="#4a453c" stroke-width="1" fill="none">
  <path d="M578,463.5 L642.7,463.5"/>
  <path d="M623.3,463.5 L623.3,491"/>
  <path d="M654.3,494 L817,494"/>
  <path d="M688,463.5 L688,551.3"/>
  <path d="M728.7,494 L728.7,521.6 L688,521.6"/>
  <path d="M746.8,521.6 L746.8,551.3 M746.8,521.6 L779.6,521.6"/>
  <path d="M735.2,457 L735.2,493" stroke-dasharray="1.5,1.5"/>
</g>
<rect x="653.8" y="494.5" width="11" height="26.5" fill="url(#hatch)"/>
<rect x="629.3" y="537" width="11.6" height="9" fill="url(#chk)"/>
<g fill="none" stroke="#3c3831" stroke-width="0.7">
  <rect x="556" y="489.5" width="2.5" height="2.5"/><rect x="580" y="489.5" width="2.5" height="2.5"/>
  <rect x="556" y="521" width="2.5" height="2.5"/><rect x="580" y="521" width="2.5" height="2.5"/>
  <rect x="606" y="428.5" width="2.5" height="2.5"/>
</g>
<path d="M791.5,532 L795.9,525 L800.3,532Z" fill="#bdb39a"/>
<g font-size="4.6" fill="#3c3831" font-weight="bold" text-anchor="middle">
  <text x="610" y="443.5">STORAGE</text>
  <text x="568" y="506">LAUNDRY ROOM</text>
  <text x="659" y="532">BOILER ROOM</text>
  <text x="756" y="474">WORKSPACE</text>
</g>

<!-- floor titles -->
<g fill="#23211e" text-anchor="end" font-size="23.8">
  <text x="300.1" y="147.8">1</text>
  <text x="521.4" y="147.8">2</text>
  <text x="745.6" y="147.8">3</text>
  <text x="520.5" y="524.7" textLength="18.3" lengthAdjust="spacingAndGlyphs">-1</text>
</g>
<g fill="#24221f" font-size="9.6" font-weight="bold" lengthAdjust="spacingAndGlyphs">
  <text x="274.1" y="164.1" textLength="24.5" lengthAdjust="spacingAndGlyphs">FIRST</text>
  <text x="269.9" y="175.9" textLength="28.7" lengthAdjust="spacingAndGlyphs">FLOOR</text>
  <text x="486.1" y="164.1" textLength="35.6" lengthAdjust="spacingAndGlyphs">SECOND</text>
  <text x="492.6" y="176" textLength="29.1" lengthAdjust="spacingAndGlyphs">FLOOR</text>
  <text x="718.5" y="164.1" textLength="26.2" lengthAdjust="spacingAndGlyphs">THIRD</text>
  <text x="716.2" y="176" textLength="28.5" lengthAdjust="spacingAndGlyphs">FLOOR</text>
  <text x="473.2" y="541.3" font-size="8.8" textLength="46.5" lengthAdjust="spacingAndGlyphs">BASEMENT</text>
</g>

<!-- logo -->
<line x1="254.6" y1="477" x2="254.6" y2="556" stroke="#4f4a42" stroke-width="1"/>
<g fill="#222120">
<circle cx="273.5" cy="467.6" r="1.45"/>
<circle cx="273.9" cy="465.8" r="1.32"/>
<circle cx="274.4" cy="464.5" r="1.34"/>
<circle cx="276.0" cy="462.4" r="1.20"/>
<circle cx="275.5" cy="461.2" r="1.36"/>
<circle cx="276.3" cy="459.6" r="1.47"/>
<circle cx="278.5" cy="458.0" r="1.14"/>
<circle cx="279.2" cy="457.4" r="1.10"/>
<circle cx="281.1" cy="456.5" r="1.09"/>
<circle cx="282.8" cy="455.2" r="1.42"/>
<circle cx="284.4" cy="454.2" r="1.28"/>
<circle cx="286.3" cy="453.9" r="1.19"/>
<circle cx="288.4" cy="452.7" r="1.42"/>
<circle cx="289.9" cy="453.6" r="1.17"/>
<circle cx="291.1" cy="453.9" r="1.39"/>
<circle cx="293.1" cy="453.0" r="1.24"/>
<circle cx="295.6" cy="453.6" r="1.08"/>
<circle cx="296.4" cy="453.7" r="1.27"/>
<circle cx="298.7" cy="455.6" r="1.11"/>
<circle cx="300.1" cy="455.8" r="1.19"/>
<circle cx="300.6" cy="456.9" r="1.47"/>
<circle cx="302.4" cy="458.8" r="1.18"/>
<circle cx="302.9" cy="459.5" r="1.40"/>
<circle cx="304.6" cy="460.5" r="1.26"/>
<circle cx="305.8" cy="462.0" r="1.13"/>
<circle cx="306.0" cy="464.5" r="1.25"/>
<circle cx="306.6" cy="465.5" r="1.47"/>
<circle cx="307.2" cy="468.0" r="1.44"/>
<circle cx="276.2" cy="468.3" r="1.37"/>
<circle cx="277.1" cy="466.3" r="1.43"/>
<circle cx="277.3" cy="465.0" r="1.34"/>
<circle cx="278.1" cy="463.3" r="1.07"/>
<circle cx="278.6" cy="461.9" r="1.13"/>
<circle cx="280.3" cy="460.3" r="1.22"/>
<circle cx="281.9" cy="458.7" r="1.26"/>
<circle cx="283.5" cy="458.2" r="1.10"/>
<circle cx="284.7" cy="456.6" r="1.14"/>
<circle cx="285.7" cy="456.4" r="1.41"/>
<circle cx="287.4" cy="455.6" r="1.38"/>
<circle cx="289.7" cy="456.0" r="1.08"/>
<circle cx="290.9" cy="455.3" r="1.13"/>
<circle cx="293.3" cy="456.5" r="1.36"/>
<circle cx="294.9" cy="456.9" r="1.11"/>
<circle cx="296.5" cy="457.9" r="1.13"/>
<circle cx="298.4" cy="457.6" r="1.28"/>
<circle cx="299.7" cy="458.4" r="1.12"/>
<circle cx="300.2" cy="460.1" r="1.21"/>
<circle cx="301.4" cy="461.4" r="1.18"/>
<circle cx="302.6" cy="463.3" r="1.18"/>
<circle cx="304.6" cy="464.7" r="1.30"/>
<circle cx="304.6" cy="466.4" r="1.09"/>
<circle cx="304.1" cy="467.6" r="1.39"/>
<circle cx="278.1" cy="468.1" r="1.01"/>
<circle cx="279.2" cy="466.6" r="1.27"/>
<circle cx="279.1" cy="464.9" r="1.03"/>
<circle cx="280.5" cy="463.3" r="1.34"/>
<circle cx="281.8" cy="461.8" r="1.30"/>
<circle cx="283.6" cy="461.0" r="1.26"/>
<circle cx="284.7" cy="459.4" r="1.16"/>
<circle cx="286.3" cy="458.7" r="1.21"/>
<circle cx="288.0" cy="458.9" r="1.22"/>
<circle cx="289.8" cy="459.1" r="1.24"/>
<circle cx="291.9" cy="458.0" r="1.27"/>
<circle cx="293.1" cy="458.4" r="1.22"/>
<circle cx="294.9" cy="458.8" r="1.03"/>
<circle cx="296.3" cy="460.7" r="1.23"/>
<circle cx="297.6" cy="461.3" r="1.26"/>
<circle cx="299.3" cy="462.1" r="1.35"/>
<circle cx="299.6" cy="463.8" r="1.11"/>
<circle cx="300.9" cy="465.4" r="1.06"/>
<circle cx="302.2" cy="467.0" r="1.17"/>
<circle cx="302.1" cy="468.8" r="1.25"/>
<circle cx="281.2" cy="469.1" r="1.20"/>
<circle cx="281.3" cy="466.5" r="1.05"/>
<circle cx="282.8" cy="465.4" r="0.97"/>
<circle cx="283.4" cy="463.5" r="1.21"/>
<circle cx="284.9" cy="462.0" r="1.02"/>
<circle cx="286.6" cy="461.9" r="1.01"/>
<circle cx="288.4" cy="461.4" r="1.14"/>
<circle cx="290.5" cy="461.3" r="1.21"/>
<circle cx="292.7" cy="461.3" r="0.95"/>
<circle cx="294.0" cy="461.1" r="0.93"/>
<circle cx="296.0" cy="462.7" r="1.03"/>
<circle cx="297.0" cy="464.5" r="0.97"/>
<circle cx="297.9" cy="465.7" r="1.21"/>
<circle cx="298.8" cy="467.0" r="0.94"/>
<circle cx="299.8" cy="469.0" r="1.14"/>
<circle cx="283.0" cy="469.1" r="1.09"/>
<circle cx="284.7" cy="467.0" r="0.94"/>
<circle cx="286.2" cy="465.6" r="0.94"/>
<circle cx="288.3" cy="464.1" r="0.88"/>
<circle cx="290.4" cy="463.0" r="0.96"/>
<circle cx="293.2" cy="463.4" r="0.92"/>
<circle cx="295.6" cy="464.7" r="0.83"/>
<circle cx="297.1" cy="467.0" r="0.84"/>
<circle cx="297.8" cy="469.2" r="1.07"/>
<circle cx="274.2" cy="471.7" r="1.2"/>
<circle cx="273.0" cy="474.9" r="1.2"/>
<circle cx="306.8" cy="471.7" r="1.2"/>
<circle cx="308.0" cy="474.9" r="1.2"/>
<circle cx="277.3" cy="471.2" r="1.2"/>
<circle cx="303.7" cy="471.2" r="1.2"/>
<circle cx="279.5" cy="473.2" r="1.2"/>
<circle cx="301.5" cy="473.2" r="1.2"/>
</g>
<g stroke="#8f8372" stroke-width="0.7" fill="none" stroke-linecap="round" opacity="0.8">
<path d="M289.5,467 L283,460 L279,456 M289.5,466 L286.5,459 L285,454 M290.5,465 L290.5,455 M291.5,466 L294.5,459 L296,454 M291.5,467 L298,460 L302,456"/>
</g>
<path d="M287.8,481 C288.3,476 288.6,471 288.8,466.5 L292.2,466.5 C292.4,471 292.7,476 293.2,481Z" fill="#1c1c1b"/>
<g fill="none" stroke="#2e2c28" stroke-width="0.9">
<path d="M290.5,480 C285,476.5 278,477 273.5,480.5 C278,485 285,485 290.5,481.5 C296,485 303,485 307.5,480.5 C303,477 296,476.5 290.5,480Z"/>
<path d="M290.5,481.5 C286,481.5 281,483.5 280.5,487 C284,489.5 288,489 290.5,485.5 C293,489 297,489.5 300.5,487 C300,483.5 295,481.5 290.5,481.5Z"/>
<path d="M290.5,485.5 C289,487.5 289,489.5 290.5,490.5 C292,489.5 292,487.5 290.5,485.5Z"/>
</g>
<text x="272" y="505" font-family="Liberation Serif, serif" font-size="11.5" fill="#23211e" letter-spacing="6">VALHALLA</text>
<text x="273" y="516" font-family="Liberation Serif, serif" font-size="5.6" font-style="italic" fill="#4a453d" letter-spacing="1.55">Nursing Home</text>
<text transform="translate(270.9,543.5) scale(0.81,1)" x="0" y="0" font-size="19.3" fill="#23211e" stroke="#978a78" stroke-width="0.3" letter-spacing="5.2">MANOR</text>

<!-- pins -->
<g>
  <circle cx="243.8" cy="106.3" r="3.6" fill="#4a1c16"/><circle cx="247.8" cy="108.3" r="3.8" fill="#6a2a20"/><circle cx="248.5" cy="108.6" r="1.6" fill="#8a4a3e" opacity="0.6"/>
  <circle cx="950" cy="112" r="3.8" fill="#221414"/><circle cx="954" cy="108.5" r="2.8" fill="#a04a42"/>
  <circle cx="952.3" cy="561.5" r="3.9" fill="#221414"/><circle cx="956.6" cy="565" r="2.6" fill="#8a3a32"/>
</g>

<!-- blue map -->
<rect x="1003" y="193" width="197" height="482" fill="#2a2c28"/>
<defs><linearGradient id="blueG" x1="0" y1="193" x2="0" y2="675" gradientUnits="userSpaceOnUse">
<stop offset="0" stop-color="#a2b1b1"/><stop offset="0.3" stop-color="#9dacab"/><stop offset="0.6" stop-color="#9aaaad"/><stop offset="1" stop-color="#98a8ac"/></linearGradient>
<radialGradient id="blueHaze" cx="1110" cy="470" r="60" gradientUnits="userSpaceOnUse"><stop offset="0" stop-color="#b0bcb8" stop-opacity="0.5"/><stop offset="1" stop-color="#b0bcb8" stop-opacity="0"/></radialGradient></defs>
<rect x="1004.5" y="193" width="195.5" height="482" fill="url(#blueG)"/>
<ellipse cx="1110" cy="470" rx="90" ry="30" fill="url(#blueHaze)"/>
<path d="M1173,193 L1200,193 L1200,236 C1192,225 1180,210 1173,193Z" fill="#b19e7c"/>
<path d="M1200,557 L1180,559 L1168,565 L1158,570 L1042,675 L1200,675Z" fill="#ab9774"/>
<path d="M1081,640 L1200,640 L1200,675 L1042,675Z" fill="#a89472" opacity="0.6"/>
<path d="M1004,657.5 L1062,657.5" stroke="#b4c0bf" stroke-width="1" opacity="0.6"/><path d="M1062,656 C1100,655 1140,657 1200,655.5" stroke="#5e5444" stroke-width="1.2" fill="none"/>
<g fill="none" stroke="#b3bfbc" stroke-width="1.1" opacity="0.75">
  <path d="M1119.0,261.2 Q1131.0,261.2 1143.0,254.0 Q1166.5,270.0 1190.0,254.0 Q1195.0,266.8 1200.0,261.2"/>
  <path d="M1102.0,316.1 Q1117.5,316.1 1133.0,308.0 Q1157.5,326.0 1182.0,308.0 Q1191.0,322.4 1200.0,316.1"/>
  <path d="M1048.2,366.8 Q1072.6,388.8 1097.0,366.8 Q1120.2,388.8 1143.3,366.8 Q1165.5,388.8 1187.7,366.8 Q1193.8,384.4 1200.0,376.7"/>
  <path d="M1051.0,424.0 Q1073.5,446.0 1096.0,424.0 Q1119.5,446.0 1143.0,424.0 Q1166.5,446.0 1190.0,424.0 Q1195.0,441.6 1200.0,433.9"/>
  <path d="M1048.0,483.5 Q1073.3,504.5 1098.7,483.5 Q1121.3,504.5 1144.0,483.5 Q1166.5,504.5 1189.0,483.5 Q1194.5,500.3 1200.0,492.9"/>
  <path d="M1049.3,541.5 Q1072.7,563.5 1096.0,541.5 Q1105.3,559.1 1114.7,551.4"/>
  <path d="M1056,318 Q1079,330 1102,316"/>
  <path d="M1046,604 L1050.7,599.5 L1055,604"/>
</g>
<text x="1081.6" y="230.4" font-size="19" font-weight="bold" fill="#4b4e47" text-anchor="middle" textLength="14.5" lengthAdjust="spacingAndGlyphs">N</text>
<circle cx="1030.5" cy="222" r="3.6" fill="#181212"/><circle cx="1035" cy="220.5" r="2.5" fill="#b86a5a"/>
<g fill="none" stroke="#6d7062">
  <circle cx="1081.8" cy="279.4" r="37.6" stroke-width="1.2"/>
  <circle cx="1081.8" cy="279.4" r="33" stroke-width="1.1"/>
  <circle cx="1081.8" cy="279.4" r="35.3" stroke-width="4.3" stroke-dasharray="4.4,4.85"/>
</g>
<path d="M1081.8,250.4 L1083.2,272.3 L1087.0,266.9 L1085.8,273.4 L1093.1,268.1 L1087.8,275.4 L1094.3,274.2 L1088.9,278.0 L1110.8,279.4 L1088.9,280.8 L1094.3,284.6 L1087.8,283.4 L1093.1,290.7 L1085.8,285.4 L1087.0,291.9 L1083.2,286.5 L1081.8,308.4 L1080.4,286.5 L1076.6,291.9 L1077.8,285.4 L1070.5,290.7 L1075.8,283.4 L1069.3,284.6 L1074.7,280.8 L1052.8,279.4 L1074.7,278.0 L1069.3,274.2 L1075.8,275.4 L1070.5,268.1 L1077.8,273.4 L1076.6,266.9 L1080.4,272.3Z" fill="#6d7062"/>
<circle cx="1081.8" cy="279.4" r="7.5" fill="#6d7062"/>

<!-- player marker and icons -->
<circle cx="367.5" cy="165" r="26.5" fill="#ffffff" fill-opacity="0.05" stroke="#d8d4c8" stroke-opacity="0.45" stroke-width="1"/>
<path d="M368.5,140.2 L359.3,149 L346.7,145.7 L363,169.8 Z" fill="#d2cb66" stroke="#3e3c22" stroke-width="0.9" stroke-linejoin="round"/>
<g>
  <circle cx="324.4" cy="165.5" r="7.8" fill="#14191f" stroke="#8a9fbf" stroke-width="1.6"/>
  <text x="324.4" y="169.2" font-size="10" font-weight="bold" fill="#d8dfe8" text-anchor="middle">?</text>
  <circle cx="423.5" cy="160.5" r="7.6" fill="#14191f" stroke="#7d90ad" stroke-width="1.6"/>
  <text x="423.5" y="164.2" font-size="10" font-weight="bold" fill="#8a9cb8" text-anchor="middle">?</text>
  <circle cx="549.2" cy="185.8" r="7.3" fill="#14191f" stroke="#8a9fbf" stroke-width="1.5"/>
  <text x="549.2" y="189.3" font-size="9.5" font-weight="bold" fill="#d8dfe8" text-anchor="middle">?</text>
</g>
<text x="402.8" y="170" font-size="14" fill="none" stroke="#1a1a18" stroke-opacity="0.35" stroke-width="1.8" textLength="62" lengthAdjust="spacingAndGlyphs">Lunch Box</text>
<text x="402.8" y="170" font-size="14" fill="#f6f6f2" stroke="#f6f6f2" stroke-width="0.4" textLength="62" lengthAdjust="spacingAndGlyphs">Lunch Box</text>

<!-- black rect & gold bar -->
<rect x="598" y="626.5" width="367" height="48.5" fill="#060707"/>
<rect x="0" y="668" width="514" height="7" fill="url(#goldBar)"/>

<!-- ===== HUD ===== -->
<rect x="524" y="0" width="32" height="1.6" fill="#1e7ad6"/>
<rect x="50" y="38" width="313" height="30" fill="#090c0e" opacity="0.35"/>
<rect x="60.3" y="44.8" width="25.5" height="16.8" rx="2.5" fill="#a6bbae"/>
<g stroke="#4c5a54" stroke-width="0.8" fill="none">
  <path d="M66,50 L66,54 M66,52 L71,52 M69,50.5 L71,52 L69,53.5"/>
  <path d="M79,52.5 L79,56.5 M79,54.5 L74,54.5 M76,53 L74,54.5 L76,56"/>
</g>
<g font-size="16.2" stroke-width="0.45">
<text x="95.6" y="58.9" fill="#a9b3aa" stroke="#a9b3aa" textLength="78.4" lengthAdjust="spacingAndGlyphs">MIND PLACE</text>
<text x="178.6" y="58.9" fill="#a9b3aa" textLength="4.6" lengthAdjust="spacingAndGlyphs">/</text>
<text x="188.5" y="58.9" fill="#dcdfd7" stroke="#dcdfd7" textLength="166.4" lengthAdjust="spacingAndGlyphs">VALHALLA NURSING HOME</text>
</g>
<!-- tabs -->
<rect x="449.3" y="44.8" width="16.6" height="17" rx="2.5" fill="#77847f"/>
<text x="457.6" y="57" font-size="9" fill="#2c3330" text-anchor="middle">Q</text>
<rect x="468.5" y="37.3" width="37.6" height="28.6" fill="#363934"/>
<rect x="468.5" y="67.2" width="37.6" height="2.1" fill="#cfd6d2"/>
<path d="M497,43.3 L478,52.6 L486.8,54.3 L488.8,62.3 Z" fill="#e4e8e4"/>
<g fill="#93a29d">
  <path d="M516.8,43 L530.5,43 L534.7,47.2 L534.7,63.5 L516.8,63.5Z"/>
  <path d="M557,46.5 L567,46.5 L570.7,50.2 L570.7,62.7 L557,62.7Z"/>
  <path d="M554.7,44 L565.5,44 L565.5,45.5 L556,45.5 L556,61 L554.7,61Z"/>
</g>
<circle cx="525.5" cy="50.5" r="3.3" fill="#3a4440"/>
<path d="M520,56 h11 M520,58.5 h11 M520,61 h8" stroke="#6d7c77" stroke-width="0.8"/>
<path d="M559,53 h9 M559,55.5 h9 M559,58 h9 M559,60.5 h6" stroke="#6d7c77" stroke-width="0.8"/>
<g fill="none" stroke="#b2bfbb" stroke-width="1.4">
  <circle cx="600" cy="52.5" r="11.5"/><circle cx="600" cy="52.5" r="8.3"/><circle cx="600" cy="52.5" r="5.2"/>
</g>
<path d="M596.5,52.5 Q600,49 603.5,52.5 Q600,56 596.5,52.5Z" fill="#b2bfbb"/>
<circle cx="637.3" cy="32" r="3" fill="#d9c66e"/>
<circle cx="674.7" cy="32" r="3" fill="#d9c66e"/>
<rect x="626.1" y="43.5" width="21.9" height="17.8" rx="1.2" fill="#c4b262"/>
<rect x="626.6" y="44" width="20.9" height="16.8" rx="1" fill="none" stroke="#3a3520" stroke-width="0.8"/>
<rect x="627" y="47" width="20" height="1.3" fill="#2e2b1e"/>
<path d="M628.5,51 h8 M628.5,53.5 h8 M628.5,56 h8 M628.5,58.5 h8" stroke="#6e6436" stroke-width="0.9"/>
<circle cx="642" cy="55.5" r="3.3" fill="#2e2b1e"/>
<circle cx="642" cy="55.5" r="1.1" fill="#c4b262"/>
<rect x="662.1" y="43.5" width="25.9" height="18.6" rx="1" fill="#c4b262"/>
<rect x="662.6" y="44" width="24.9" height="17.6" rx="1" fill="none" stroke="#3a3520" stroke-width="0.9"/>
<rect x="664.8" y="46.2" width="16.8" height="12.6" rx="3" fill="#2e2b1e"/>
<rect x="666" y="47.4" width="14.4" height="10.2" rx="2.4" fill="#c9b86c"/>
<path d="M684,48 v9" stroke="#3a3520" stroke-width="0.8"/>
<circle cx="685.3" cy="49" r="0.7" fill="#3a3520"/><circle cx="685.3" cy="51.5" r="0.7" fill="#3a3520"/>
<path d="M700.8,45.2 L702.5,45.2 L702.5,44.2 L704,44.2 L704,45.2 L723.3,45.2 L723.3,44.5 L724.8,44.5 L724.8,50.6 L714.5,50.6 L714.5,52.2 C714.5,55.5 712.5,56.5 709.8,56.5 L708.5,56.5 L706.5,61.9 L700.2,61.9 L702.5,52.5 L700.8,51.5 Z" fill="#aebbb7"/>
<path d="M709.8,50.6 L712.8,50.6 L712.8,52.2 C712.8,54 711.6,54.8 710,54.8 Z" fill="#141a1b"/>
<path d="M704.5,47.3 h18" stroke="#7f8c88" stroke-width="0.6"/>
<rect x="734.1" y="44.8" width="16.6" height="17" rx="2.5" fill="#77847f"/>
<text x="742.4" y="57" font-size="9" fill="#2c3330" text-anchor="middle">E</text>
<!-- exit -->
<rect x="1066.7" y="37.5" width="83" height="29.5" rx="2" fill="#000" opacity="0.25"/>
<rect x="1075.8" y="45" width="28.2" height="16.7" rx="2.5" fill="#a9c4ba"/>
<text x="1082.7" y="56.7" font-size="9.3" font-weight="bold" fill="#3b4a44" textLength="14.3" lengthAdjust="spacingAndGlyphs">ESC</text>
<text x="1113.3" y="58.8" font-size="16.2" fill="#d8dcd5" stroke="#d8dcd5" stroke-width="0.35" textLength="26.3" lengthAdjust="spacingAndGlyphs">EXIT</text>
<!-- goals -->
<rect x="50" y="608.5" width="127" height="27" rx="1" fill="#090c0d" opacity="0.6"/>
<path d="M60.5,621.5 L63.5,619 L63.5,624Z" fill="#9fb0aa"/>
<rect x="64" y="613" width="33.5" height="16" rx="2.5" fill="#a0b8ae"/>
<text x="70.9" y="624.7" font-size="10" fill="#44524c" textLength="19.8" lengthAdjust="spacingAndGlyphs">CTRL</text>
<text x="107.4" y="626.8" font-size="16.2" fill="#c4cac4" stroke="#c4cac4" stroke-width="0.4" textLength="43.2" lengthAdjust="spacingAndGlyphs">GOALS</text>
<text x="155.9" y="626.8" font-size="16.2" fill="#e0e3de" stroke="#e0e3de" stroke-width="0.5" textLength="8.7" lengthAdjust="spacingAndGlyphs">3</text>
<!-- player / zoom -->
<rect x="955.7" y="606.7" width="82.3" height="30" rx="2" fill="#000" opacity="0.4"/>
<rect x="964" y="613" width="17.7" height="17" rx="2.5" fill="#a0b8ae"/>
<text x="972.8" y="625.5" font-size="10" fill="#3d4a45" text-anchor="middle">P</text>
<text x="985" y="627" font-size="13.3" font-weight="bold" fill="#c0c8c2" textLength="40.3" lengthAdjust="spacingAndGlyphs">PLAYER</text>
<rect x="1045.7" y="606.7" width="97.3" height="30" rx="2" fill="#000" opacity="0.38"/>
<rect x="1057.5" y="612.5" width="12" height="17" rx="5.5" fill="#3f5043"/>
<rect x="1079.5" y="612.5" width="12" height="17" rx="5.5" fill="#3f5043"/>
<path d="M1063.5,614.5 v5.5 M1061.5,618.5 l2,2.3 l2,-2.3 M1085.5,621 v-6 M1083.5,616.5 l2,-2.3 l2,2.3" stroke="#d0dad4" stroke-width="1.2" fill="none"/>
<text x="1098.3" y="627" font-size="13.3" font-weight="bold" fill="#c0c8c2" textLength="31.7" lengthAdjust="spacingAndGlyphs">ZOOM</text>

</svg>
</body></html>
